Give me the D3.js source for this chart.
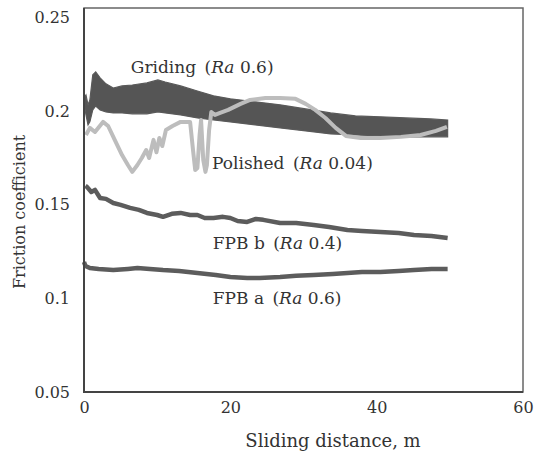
<!DOCTYPE html>
<html>
<head>
<meta charset="utf-8">
<script src="https://cdn.jsdelivr.net/npm/d3@7"></script>
<style>
  body { margin: 0; background: #fff; }
  svg text { font-family: "DejaVu Serif", "Liberation Serif", serif; fill: #333; }
</style>
</head>
<body>
<svg id="chart" width="534" height="455"></svg>
<script>
/* ---------- data ---------- */
const xTicks = [0, 20, 40, 60];
const yTicks = [0.05, 0.1, 0.15, 0.2, 0.25];

// Griding (Ra 0.6): noisy band, upper / lower envelope
const gridDist  = [0, 0.27, 0.55, 0.8, 1.2, 1.6, 2.2, 3.0, 4.0, 5.2, 6.6, 8.6, 10.1, 11.1, 13.2, 15.5, 17.7, 20.0, 23.4, 26.8, 30.3, 33.7, 37.1, 40.5, 44.0, 47.4, 49.7];
const gridUpper = [0.207, 0.2086, 0.2033, 0.2059, 0.2193, 0.2209, 0.2177, 0.2145, 0.2123, 0.2134, 0.2139, 0.215, 0.2166, 0.2155, 0.2134, 0.2107, 0.2081, 0.2065, 0.2049, 0.2033, 0.2011, 0.199, 0.1974, 0.1969, 0.1963, 0.1958, 0.1952];
const gridLower = [0.2038, 0.1979, 0.1926, 0.1942, 0.2006, 0.2027, 0.2006, 0.1995, 0.199, 0.199, 0.1985, 0.1985, 0.1995, 0.199, 0.1979, 0.1963, 0.1952, 0.1942, 0.1926, 0.191, 0.1894, 0.1878, 0.1872, 0.1867, 0.1862, 0.1862, 0.1862];

// Polished (Ra 0.04)
const polDist = [0.27, 0.8, 1.5, 2.6, 3.3, 4.2, 5.2, 6.0, 6.6, 7.3, 7.9, 8.5, 8.9, 9.5, 9.9, 10.3, 10.7, 11.2, 12.1, 13.2, 14.5, 14.9, 15.2, 15.5, 15.8, 16.0, 16.3, 16.6, 16.8, 17.1, 17.4, 17.9, 18.6, 19.7, 21.4, 22.7, 24.8, 26.8, 28.9, 30.3, 31.6, 33.0, 34.4, 35.8, 37.8, 40.5, 43.3, 46.0, 48.1, 49.6];
const polVal  = [0.1872, 0.191, 0.1888, 0.1942, 0.192, 0.1846, 0.1765, 0.1712, 0.1675, 0.1712, 0.1749, 0.1792, 0.1749, 0.1846, 0.178, 0.1856, 0.1813, 0.1899, 0.192, 0.1942, 0.1942, 0.1792, 0.1685, 0.1696, 0.1872, 0.1952, 0.1739, 0.1675, 0.1712, 0.1899, 0.1995, 0.1979, 0.199, 0.2006, 0.2038, 0.2059, 0.207, 0.207, 0.2065, 0.2038, 0.2006, 0.1963, 0.191, 0.1867, 0.1856, 0.1856, 0.1862, 0.1872, 0.1894, 0.1915];

// FPB b (Ra 0.4)
const fpbBDist = [0.2, 0.4, 1.0, 1.5, 2.2, 3.0, 4.0, 5.0, 6.3, 7.5, 8.6, 10.0, 10.8, 12.0, 13.2, 14.5, 15.5, 16.5, 17.7, 19.0, 20.0, 21.0, 22.3, 23.5, 24.5, 26.8, 29.0, 31.4, 33.5, 36.0, 38.0, 40.5, 43.0, 45.1, 47.5, 49.7];
const fpbBVal  = [0.16, 0.1595, 0.1568, 0.1579, 0.1536, 0.1531, 0.1509, 0.1499, 0.1483, 0.1472, 0.1456, 0.1445, 0.1435, 0.1451, 0.1456, 0.1445, 0.1445, 0.1429, 0.1429, 0.1435, 0.1429, 0.1413, 0.1408, 0.1424, 0.1419, 0.1402, 0.1402, 0.1392, 0.1381, 0.1365, 0.136, 0.1354, 0.1349, 0.1338, 0.1333, 0.1322];

// FPB a (Ra 0.6)
const fpbADist = [0, 0.2, 0.8, 2.0, 4.0, 6.0, 7.3, 9.0, 10.8, 13.0, 15.5, 18.0, 20.0, 22.3, 24.0, 26.8, 29.0, 31.4, 34.0, 36.0, 38.0, 40.5, 43.0, 45.1, 47.5, 49.7];
const fpbAVal  = [0.1194, 0.1173, 0.1162, 0.1157, 0.1151, 0.1157, 0.1162, 0.1157, 0.1151, 0.1146, 0.1135, 0.1125, 0.1114, 0.1109, 0.1109, 0.1114, 0.112, 0.1125, 0.113, 0.1135, 0.1141, 0.1141, 0.1146, 0.1151, 0.1157, 0.1157];

// curve labels: [name, Ra text, x (m), y (coefficient at baseline)]
const labels = [
  ['Griding', '0.6', 6.4, 0.2203],
  ['Polished', '0.04', 17.5, 0.1689],
  ['FPB b', '0.4', 17.6, 0.1262],
  ['FPB a', '0.6', 17.6, 0.0969],
];

/* ---------- setup ---------- */
const svg = d3.select('#chart');
const box = { left: 84, right: 523, top: 8, bottom: 392 };

const x = d3.scaleLinear().domain([0, 60]).range([box.left, box.right]);
const y = d3.scaleLinear().domain([0.05, 0.255]).range([box.bottom, box.top]);

const zip = (xs, ys) => xs.map((d, i) => [d, ys[i]]);

/* ---------- series ---------- */
const line = d3.line().x(d => x(d[0])).y(d => y(d[1]));

// griding band
const band = d3.area()
  .x((d, i) => x(gridDist[i]))
  .y0((d, i) => y(gridLower[i]))
  .y1((d, i) => y(gridUpper[i]));

svg.append('path')
  .datum(gridDist)
  .attr('d', band)
  .attr('fill', '#555')
  .attr('stroke', '#5a5a5a')
  .attr('stroke-width', 1.2);

// polished
svg.append('path')
  .datum(zip(polDist, polVal))
  .attr('d', line)
  .attr('fill', 'none')
  .attr('stroke', '#bdbdbd')
  .attr('stroke-width', 4)
  .attr('stroke-linejoin', 'round');

// FPB b / FPB a
[[fpbBDist, fpbBVal], [fpbADist, fpbAVal]].forEach(([xs, ys]) => {
  svg.append('path')
    .datum(zip(xs, ys))
    .attr('d', line)
    .attr('fill', 'none')
    .attr('stroke', '#5c5c5c')
    .attr('stroke-width', 4.5)
    .attr('stroke-linejoin', 'round');
});

/* ---------- frame ---------- */
svg.append('rect')
  .attr('x', box.left).attr('y', box.top)
  .attr('width', box.right - box.left).attr('height', box.bottom - box.top)
  .attr('fill', 'none').attr('stroke', '#666').attr('stroke-width', 1.5);

svg.append('path')
  .attr('d', `M${box.left},${box.top}V${box.bottom}H${box.right}`)
  .attr('fill', 'none').attr('stroke', '#444').attr('stroke-width', 2);

/* ---------- axes (labels only, no tick marks) ---------- */
const fmt = d => String(+d.toFixed(2));

const gy = svg.append('g')
  .attr('transform', `translate(${box.left},0)`)
  .call(d3.axisLeft(y).tickValues(yTicks).tickFormat(fmt).tickSize(0).tickPadding(14));
gy.select('.domain').remove();
gy.selectAll('text').style('font-size', '16px').attr('fill', '#333')
  .style('font-family', '"DejaVu Serif", serif');

const gx = svg.append('g')
  .attr('transform', `translate(0,${box.bottom})`)
  .call(d3.axisBottom(x).tickValues(xTicks).tickSize(0).tickPadding(10));
gx.select('.domain').remove();
gx.selectAll('text').style('font-size', '16px').attr('fill', '#333')
  .style('font-family', '"DejaVu Serif", serif');

svg.append('text')
  .attr('x', 333).attr('y', 447)
  .attr('text-anchor', 'middle')
  .style('font-size', '18px')
  .text('Sliding distance, m');

svg.append('text')
  .attr('transform', 'translate(25,212) rotate(-90)')
  .attr('text-anchor', 'middle')
  .style('font-size', '16px')
  .text('Friction coefficient');

/* ---------- curve labels ---------- */
labels.forEach(([name, ra, lx, ly]) => {
  const t = svg.append('text')
    .attr('x', x(lx)).attr('y', y(ly))
    .style('font-size', '17px');
  t.append('tspan').text(name + ' ');
  t.append('tspan').attr('dx', 3).text('(');
  t.append('tspan').style('font-style', 'italic').text('Ra');
  t.append('tspan').text(' ' + ra + ')');
});
</script>
</body>
</html>
